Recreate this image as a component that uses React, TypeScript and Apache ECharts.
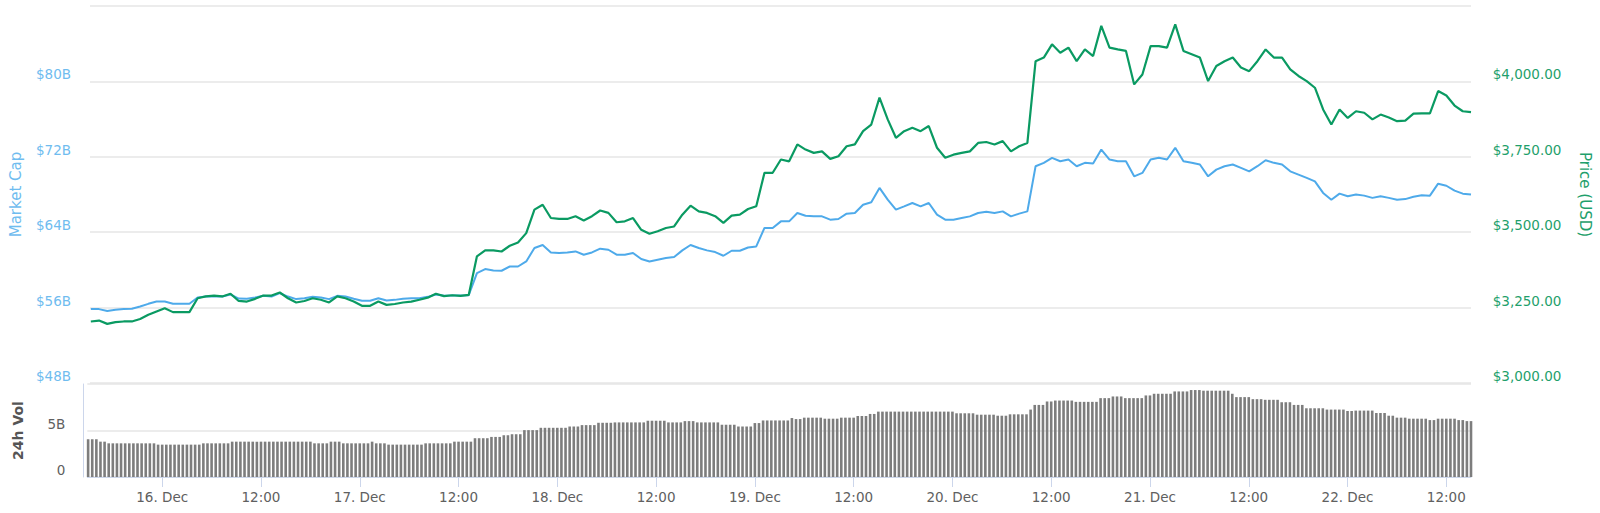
import React, { useEffect, useRef } from "react";
import * as echarts from "echarts";

// x values are hours after 15 Dec 12:00
const X_MIN = 2.9;
const X_MAX = 171;
const LINE_START_HOUR = 3;
const LINE_STEP_HOURS = 1;
const VOLUME_START_HOUR = 3;
const VOLUME_STEP_HOURS = 0.5;

const xTickHours = [12, 24, 36, 48, 60, 72, 84, 96, 108, 120, 132, 144, 156, 168];
const xTickLabels = [
  "16. Dec", "12:00", "17. Dec", "12:00", "18. Dec", "12:00", "19. Dec",
  "12:00", "20. Dec", "12:00", "21. Dec", "12:00", "22. Dec", "12:00",
];

// Price (USD), hourly
const priceUsd = [
  3204, 3207, 3196, 3202, 3204, 3204, 3212, 3226, 3237, 3248,
  3235, 3235, 3235, 3281, 3287, 3290, 3287, 3296, 3272, 3270,
  3279, 3290, 3290, 3300, 3281, 3267, 3272, 3281, 3276, 3267,
  3287, 3281, 3270, 3256, 3256, 3270, 3259, 3262, 3267, 3270,
  3276, 3283, 3296, 3288, 3291, 3289, 3292, 3420, 3440, 3440,
  3436, 3455, 3466, 3497, 3575, 3591, 3547, 3544, 3544, 3553,
  3539, 3553, 3572, 3564, 3533, 3536, 3547, 3508, 3495, 3503,
  3514, 3519, 3558, 3588, 3569, 3564, 3553, 3531, 3555, 3558,
  3577, 3586, 3697, 3697, 3741, 3735, 3791, 3774, 3763, 3768,
  3743, 3752, 3785, 3791, 3835, 3857, 3946, 3874, 3813, 3835,
  3846, 3835, 3852, 3780, 3747, 3757, 3763, 3768, 3796, 3799,
  3791, 3802, 3768, 3785, 3796, 4067, 4079, 4123, 4095, 4112,
  4067, 4106, 4084, 4184, 4112, 4106, 4101, 3990, 4023, 4117,
  4117, 4112, 4189, 4101, 4090, 4079, 4001, 4051, 4067, 4079,
  4046, 4034, 4067, 4106, 4079, 4079, 4040, 4018, 4001, 3979,
  3907, 3857, 3907, 3879, 3901, 3896, 3874, 3890, 3880, 3868,
  3870, 3893, 3894, 3894, 3968, 3953, 3920, 3901, 3898,
];

// Market cap (billion USD), hourly
const marketCapB = [
  55.84, 55.84, 55.65, 55.76, 55.84, 55.87, 56.11, 56.4, 56.64, 56.64,
  56.4, 56.4, 56.4, 57.07, 57.17, 57.17, 57.17, 57.39, 56.96, 56.93,
  57.07, 57.25, 57.17, 57.54, 57.17, 56.9, 57.0, 57.14, 57.07, 56.9,
  57.25, 57.17, 56.93, 56.72, 56.72, 57.0, 56.75, 56.82, 56.93, 57.0,
  57.0, 57.14, 57.39, 57.25, 57.28, 57.28, 57.32, 59.66, 60.09, 59.94,
  59.91, 60.36, 60.36, 60.9, 62.32, 62.64, 61.85, 61.79, 61.85, 61.96,
  61.61, 61.85, 62.25, 62.14, 61.61, 61.61, 61.79, 61.15, 60.9, 61.08,
  61.26, 61.36, 62.07, 62.64, 62.32, 62.07, 61.89, 61.5, 62.03, 62.03,
  62.38, 62.49, 64.45, 64.45, 65.15, 65.15, 66.04, 65.75, 65.68, 65.68,
  65.33, 65.4, 65.97, 66.04, 66.92, 67.17, 68.7, 67.45, 66.39, 66.74,
  67.1, 66.74, 67.1, 65.86, 65.33, 65.33, 65.51, 65.68, 66.04, 66.16,
  66.04, 66.21, 65.68, 65.97, 66.21, 71.0, 71.36, 71.89, 71.53, 71.71,
  71.0, 71.36, 71.28, 72.77, 71.71, 71.53, 71.53, 69.93, 70.29, 71.71,
  71.89, 71.71, 72.95, 71.53, 71.36, 71.18, 69.93, 70.64, 71.0, 71.18,
  70.83, 70.46, 71.0, 71.63, 71.36, 71.18, 70.46, 70.11, 69.76, 69.4,
  68.17, 67.45, 68.09, 67.81, 67.99, 67.88, 67.64, 67.81, 67.64, 67.45,
  67.51, 67.77, 67.93, 67.88, 69.15, 68.93, 68.41, 68.09, 67.99,
];

// 24h volume (billion USD), every 30 minutes
const volumeB = [
  4.06, 4.06, 4.06,
  3.8, 3.8,
  3.62, 3.62, 3.62, 3.62, 3.62, 3.62, 3.62, 3.62, 3.62, 3.62, 3.62, 3.62,
  3.48, 3.48, 3.48, 3.48, 3.48, 3.48, 3.48, 3.48, 3.48, 3.48, 3.48,
  3.62, 3.62, 3.62, 3.62, 3.62, 3.62, 3.62,
  3.8, 3.8, 3.8, 3.8, 3.8, 3.8, 3.8, 3.8, 3.8, 3.8, 3.8, 3.8, 3.8, 3.8, 3.8, 3.8, 3.8, 3.8, 3.8, 3.8,
  3.62, 3.62, 3.62, 3.62,
  3.8, 3.8, 3.8,
  3.62, 3.62, 3.62, 3.62, 3.62, 3.62, 3.62,
  3.8,
  3.62, 3.62, 3.62,
  3.48, 3.48, 3.48, 3.48, 3.48, 3.48, 3.48, 3.48, 3.48,
  3.62, 3.62, 3.62, 3.62, 3.62, 3.62, 3.62,
  3.8, 3.8, 3.8, 3.8, 3.8,
  4.17, 4.17, 4.17, 4.17,
  4.31, 4.31, 4.31,
  4.49, 4.49,
  4.6, 4.6, 4.6,
  5.04, 5.04, 5.04, 5.04,
  5.29, 5.29, 5.29, 5.29, 5.29, 5.29, 5.29,
  5.43, 5.43, 5.43,
  5.58, 5.58, 5.58, 5.58,
  5.83, 5.83, 5.83, 5.83,
  5.87, 5.87, 5.87, 5.87, 5.87, 5.87, 5.87, 5.87,
  6.05, 6.05, 6.05, 6.05, 6.05,
  5.87, 5.87, 5.87, 5.87,
  6.01, 6.01, 6.01,
  5.87, 5.87, 5.87, 5.87, 5.87, 5.87,
  5.62, 5.62, 5.62, 5.62,
  5.43, 5.43, 5.43, 5.43,
  5.8, 5.8,
  6.08, 6.08, 6.08, 6.08, 6.08, 6.08, 6.08,
  6.34,
  6.23, 6.23,
  6.38, 6.38, 6.38, 6.38, 6.38,
  6.27, 6.27, 6.27, 6.27,
  6.38, 6.38, 6.38, 6.38,
  6.56, 6.56, 6.56,
  6.78, 6.78,
  7.03, 7.03, 7.03, 7.03, 7.03, 7.03, 7.03, 7.03, 7.03, 7.03, 7.03, 7.03, 7.03, 7.03, 7.03, 7.03, 7.03, 7.03, 7.03,
  6.85, 6.85, 6.85, 6.85, 6.85,
  6.7, 6.7, 6.7, 6.7, 6.7,
  6.59, 6.59, 6.59,
  6.74, 6.74, 6.74, 6.74, 6.74,
  7.25,
  7.75, 7.75, 7.75,
  8.12, 8.12,
  8.22, 8.22, 8.22, 8.22, 8.22,
  8.08, 8.08, 8.08, 8.08, 8.08, 8.08,
  8.48, 8.48, 8.48,
  8.66, 8.66, 8.66,
  8.48, 8.48, 8.48, 8.48, 8.48,
  8.77, 8.77,
  8.95, 8.95, 8.95, 8.95, 8.95,
  9.2, 9.2, 9.2, 9.2,
  9.35, 9.35, 9.35,
  9.28, 9.28, 9.28, 9.28, 9.28, 9.28, 9.28,
  8.95,
  8.59, 8.59, 8.59, 8.59,
  8.37, 8.37, 8.37,
  8.3, 8.3, 8.3, 8.3,
  8.04, 8.04, 8.04,
  7.75, 7.75, 7.75,
  7.39, 7.39, 7.39, 7.39, 7.39,
  7.25, 7.25, 7.25, 7.25, 7.25,
  7.1, 7.1,
  7.14, 7.14, 7.14, 7.14, 7.14,
  6.88, 6.88, 6.88,
  6.59, 6.59,
  6.38, 6.38, 6.38,
  6.27, 6.27, 6.27, 6.27, 6.27,
  6.12, 6.12,
  6.27, 6.27, 6.27, 6.27, 6.27,
  6.12, 6.12,
  6.01, 6.01,
];

const mcTicks = { min: 48, max: 88, interval: 8 };
const priceTicks = { min: 3000, max: 4250, interval: 250 };
const volTicks = { min: 0, max: 10, interval: 5 };

const BLUE = "#4eaaea";
const BLUE_TEXT = "#6fbcef";
const GREEN = "#0a9a62";
const GREEN_TEXT = "#1f9f6c";
const GRID_COLOR = "#e6e6e6";
const AXIS_COLOR = "#ccd6eb";
const FONT = "DejaVu Sans";

const GRID_LEFT = 87.3;
const GRID_RIGHT = 129;

export default function App() {
  const ref = useRef<HTMLDivElement>(null);

  useEffect(() => {
    if (!ref.current) return;
    const chart = echarts.init(ref.current, null, { renderer: "svg" });

    const priceData = priceUsd.map((v, i) => [LINE_START_HOUR + i * LINE_STEP_HOURS, v]);
    const mcData = marketCapB.map((v, i) => [LINE_START_HOUR + i * LINE_STEP_HOURS, v]);
    const volData = volumeB.map((v, i) => [VOLUME_START_HOUR + i * VOLUME_STEP_HOURS, v]);

    const option: any = {
      animation: false,
      backgroundColor: "#ffffff",
      textStyle: { fontFamily: FONT },
      grid: [
        { left: GRID_LEFT, right: GRID_RIGHT, top: 6, height: 377 },
        { left: GRID_LEFT, right: GRID_RIGHT, top: 384, height: 93 },
      ],
      xAxis: [
        {
          type: "value",
          gridIndex: 0,
          min: X_MIN,
          max: X_MAX,
          show: false,
        },
        {
          type: "value",
          gridIndex: 1,
          min: X_MIN,
          max: X_MAX,
          axisLine: { show: true, lineStyle: { color: AXIS_COLOR, width: 1 } },
          axisTick: {
            show: true,
            customValues: xTickHours,
            length: 10,
            lineStyle: { color: AXIS_COLOR },
          },
          axisLabel: {
            customValues: xTickHours,
            margin: 13,
            color: "#606060",
            fontSize: 13.5,
            fontFamily: FONT,
            formatter: (v: number) => {
              const idx = xTickHours.indexOf(Math.round(v));
              return idx >= 0 ? xTickLabels[idx] : "";
            },
          },
          splitLine: { show: false },
        },
      ],
      yAxis: [
        {
          type: "value",
          gridIndex: 0,
          position: "left",
          min: mcTicks.min,
          max: mcTicks.max,
          interval: mcTicks.interval,
          name: "Market Cap",
          nameLocation: "middle",
          nameRotate: 90,
          nameGap: 67,
          nameTextStyle: { color: BLUE_TEXT, fontSize: 15, fontFamily: FONT },
          axisLine: { show: false },
          axisTick: { show: false },
          axisLabel: {
            showMaxLabel: false,
            align: "left",
            verticalAlign: "bottom",
            margin: 54,
            color: BLUE_TEXT,
            fontSize: 13.5,
            fontFamily: FONT,
            formatter: (v: number) => `$${v}B`,
          },
          splitLine: { show: true, lineStyle: { color: GRID_COLOR, width: 1.5 } },
        },
        {
          type: "value",
          gridIndex: 0,
          position: "right",
          min: priceTicks.min,
          max: priceTicks.max,
          interval: priceTicks.interval,
          name: "Price (USD)",
          nameLocation: "middle",
          nameRotate: -90,
          nameGap: 106,
          nameTextStyle: { color: GREEN_TEXT, fontSize: 15, fontFamily: FONT },
          axisLine: { show: false },
          axisTick: { show: false },
          axisLabel: {
            showMaxLabel: false,
            align: "left",
            verticalAlign: "bottom",
            margin: 21.7,
            color: GREEN_TEXT,
            fontSize: 13.5,
            fontFamily: FONT,
            formatter: (v: number) =>
              "$" + v.toLocaleString("en-US", { minimumFractionDigits: 2, maximumFractionDigits: 2 }),
          },
          splitLine: { show: false },
        },
        {
          type: "value",
          gridIndex: 1,
          position: "left",
          offset: 4,
          min: volTicks.min,
          max: volTicks.max,
          interval: volTicks.interval,
          name: "24h Vol",
          nameLocation: "middle",
          nameRotate: 90,
          nameGap: 58,
          nameTextStyle: { color: "#555555", fontSize: 14, fontWeight: "bold", fontFamily: FONT },
          axisLine: { show: true, lineStyle: { color: AXIS_COLOR, width: 1 } },
          axisTick: { show: false },
          axisLabel: {
            showMaxLabel: false,
            verticalAlign: "bottom",
            margin: 18,
            color: "#606060",
            fontSize: 13.5,
            fontFamily: FONT,
            formatter: (v: number) => (v === 0 ? "0" : `${v}B`),
          },
          splitLine: { show: true, lineStyle: { color: GRID_COLOR, width: 1.5 } },
        },
      ],
      series: [
        {
          name: "Market Cap",
          type: "line",
          xAxisIndex: 0,
          yAxisIndex: 0,
          data: mcData,
          showSymbol: false,
          symbol: "none",
          lineStyle: { color: BLUE, width: 2 },
          itemStyle: { color: BLUE },
          z: 3,
        },
        {
          name: "Price",
          type: "line",
          xAxisIndex: 0,
          yAxisIndex: 1,
          data: priceData,
          showSymbol: false,
          symbol: "none",
          lineStyle: { color: GREEN, width: 2.2 },
          itemStyle: { color: GREEN },
          z: 4,
        },
        {
          name: "24h Vol",
          type: "bar",
          xAxisIndex: 1,
          yAxisIndex: 2,
          data: volData,
          barWidth: 2.6,
          itemStyle: { color: "#7d7d7d" },
        },
      ],
    };

    chart.setOption(option);
    return () => chart.dispose();
  }, []);

  return (
    <div
      ref={ref}
      style={{ position: "absolute", left: 0, top: 0, width: 1600, height: 513, background: "#fff" }}
    />
  );
}
